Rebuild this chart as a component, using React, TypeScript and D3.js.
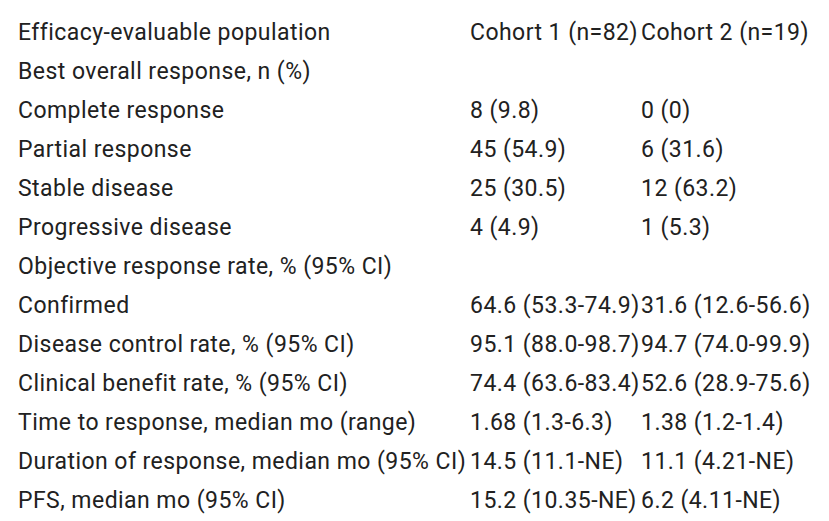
import React, { useEffect, useRef } from 'react';
import * as d3 from 'd3';

// ==== data

const header = ['Efficacy-evaluable population', 'Cohort 1 (n=82)', 'Cohort 2 (n=19)'];

const labels = [
  'Best overall response, n (%)',
  'Complete response',
  'Partial response',
  'Stable disease',
  'Progressive disease',
  'Objective response rate, % (95% CI)',
  'Confirmed',
  'Disease control rate, % (95% CI)',
  'Clinical benefit rate, % (95% CI)',
  'Time to response, median mo (range)',
  'Duration of response, median mo (95% CI)',
  'PFS, median mo (95% CI)'
];

const cohort1 = [
  '', '8 (9.8)', '45 (54.9)', '25 (30.5)', '4 (4.9)', '',
  '64.6 (53.3-74.9)', '95.1 (88.0-98.7)', '74.4 (63.6-83.4)',
  '1.68 (1.3-6.3)', '14.5 (11.1-NE)', '15.2 (10.35-NE)'
];

const cohort2 = [
  '', '0 (0)', '6 (31.6)', '12 (63.2)', '1 (5.3)', '',
  '31.6 (12.6-56.6)', '94.7 (74.0-99.9)', '52.6 (28.9-75.6)',
  '1.38 (1.2-1.4)', '11.1 (4.21-NE)', '6.2 (4.11-NE)'
];

const columns = ['label', 'c1', 'c2'];

// ====

const WIDTH = 829;
const HEIGHT = 521;

export default function App() {
  const node = useRef<SVGSVGElement | null>(null);

  useEffect(() => {
    const svg = d3.select(node.current);
    svg.selectAll('*').remove();

    const rows = [header].concat(labels.map((l, i) => [l, cohort1[i], cohort2[i]]));

    const y = d3.scaleBand<number>()
      .domain(d3.range(rows.length))
      .range([13, 13 + 39 * rows.length]);

    const x = d3.scaleOrdinal<string, number>()
      .domain(columns)
      .range([18, 470, 641]);

    const row = svg.selectAll('.row')
      .data(rows)
      .enter()
      .append('g')
      .attr('class', 'row')
      .attr('transform', (_d, i) => `translate(0, ${(y(i) as number) + 26.5})`);

    row.selectAll('text')
      .data((d) => d.map((v, j) => ({ v, col: columns[j] })))
      .enter()
      .append('text')
      .attr('x', (d) => x(d.col))
      .style('font-family', 'Roboto')
      .style('font-size', '23px')
      .style('letter-spacing', '0.45px')
      .style('fill', '#212121')
      .text((d) => d.v);
  }, []);

  return (
    <svg
      ref={node}
      width={WIDTH}
      height={HEIGHT}
      style={{ position: 'absolute', left: 0, top: 0, background: '#fff' }}>
    </svg>
  );
}
